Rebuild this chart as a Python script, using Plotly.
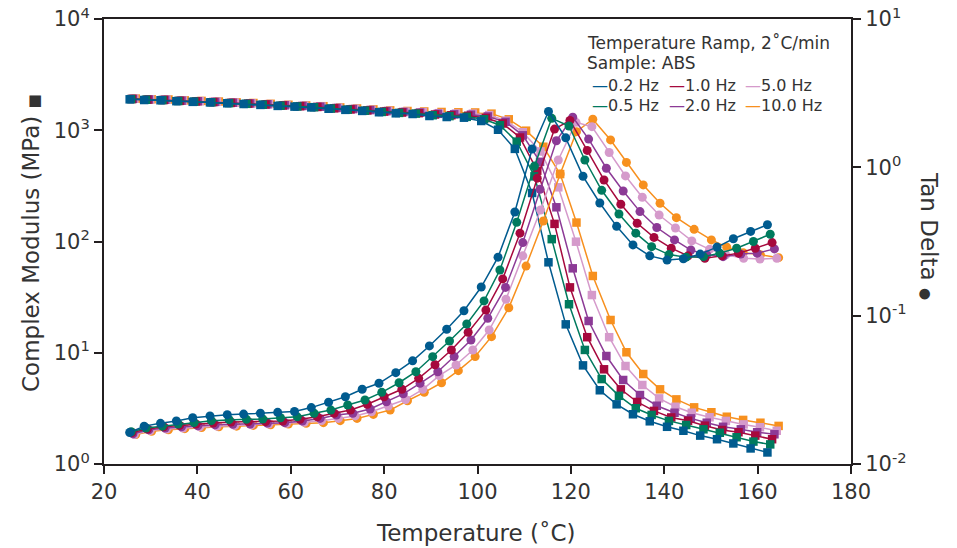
import plotly.graph_objects as go

# ---------------- data ----------------
freq_labels = ["0.2 Hz", "0.5 Hz", "1.0 Hz", "2.0 Hz", "5.0 Hz", "10.0 Hz"]
colors = ["#005B8F", "#007A5E", "#A6093D", "#8C3A96", "#D59ACB", "#F7901E"]

temp_02 = [25.5, 28.6, 32.1, 35.5, 39.0, 42.7, 46.4, 49.9, 53.5, 57.2, 60.8, 64.4, 68.1, 71.7, 75.3, 78.9, 82.5, 86.1, 89.7, 93.4,
           97.1, 100.8, 104.4, 108.0, 111.7, 115.2, 118.9, 122.6, 126.2, 129.8, 133.3, 136.9, 140.6, 144.1, 147.7, 151.3, 154.8, 158.5, 162.1]
temp_05 = [25.8, 29.0, 32.5, 35.9, 39.3, 43.0, 46.8, 50.5, 54.0, 57.8, 61.4, 65.0, 68.6, 72.2, 75.9, 79.5, 83.2, 86.8, 90.4, 94.0,
           97.7, 101.4, 104.8, 108.4, 112.2, 115.9, 119.6, 123.0, 126.6, 130.3, 133.9, 137.3, 141.0, 144.7, 148.4, 151.9, 155.5, 159.1, 162.7]
temp_10 = [26.0, 29.3, 32.8, 36.2, 39.7, 43.4, 47.2, 50.9, 54.6, 58.3, 62.0, 65.7, 69.3, 72.8, 76.4, 80.0, 83.8, 87.4, 90.9, 94.4,
           98.0, 101.8, 105.4, 109.1, 112.8, 116.5, 119.8, 123.5, 127.1, 130.7, 134.2, 137.8, 141.5, 145.1, 148.7, 152.4, 155.9, 159.5, 163.1]
temp_20 = [26.2, 29.6, 33.1, 36.6, 40.1, 43.8, 47.6, 51.3, 55.0, 58.7, 62.5, 66.3, 69.8, 73.3, 77.0, 80.5, 84.1, 87.7, 91.5, 95.0,
           98.6, 102.2, 106.0, 109.7, 113.4, 116.9, 120.4, 123.8, 127.6, 131.2, 134.8, 138.4, 142.2, 145.7, 149.1, 152.6, 156.4, 159.9, 163.6]
temp_50 = [26.5, 29.9, 33.4, 36.9, 40.5, 44.2, 48.0, 51.6, 55.3, 59.1, 62.9, 66.6, 70.2, 73.8, 77.3, 80.9, 84.6, 88.3, 91.8, 95.4,
           99.0, 102.5, 106.1, 109.7, 113.5, 117.3, 121.1, 124.5, 128.2, 131.7, 135.3, 138.9, 142.4, 145.9, 149.7, 153.2, 157.0, 160.5, 164.1]
temp_100 = [26.8, 30.2, 33.8, 37.3, 40.9, 44.6, 48.4, 52.0, 55.7, 59.5, 63.3, 67.0, 70.6, 74.2, 77.7, 81.3, 85.0, 88.6, 92.3, 95.9,
            99.5, 103.0, 106.7, 110.4, 114.1, 117.7, 121.2, 124.7, 128.5, 131.9, 135.5, 139.1, 142.6, 146.4, 150.1, 153.4, 156.9, 160.6, 164.5]

modulus_02 = [1897, 1870, 1860, 1825, 1800, 1780, 1748, 1722, 1690, 1655, 1630, 1605, 1560, 1525, 1492, 1452, 1420, 1400, 1343, 1315,
              1297, 1211, 1010, 680, 273, 65, 18.0, 7.7, 4.6, 3.44, 2.80, 2.42, 2.16, 1.99, 1.80, 1.67, 1.53, 1.38, 1.27]
modulus_05 = [1905, 1880, 1866, 1832, 1808, 1786, 1755, 1728, 1697, 1662, 1637, 1612, 1568, 1532, 1500, 1462, 1432, 1412, 1365, 1340,
              1320, 1255, 1110, 790, 385, 105, 27.3, 10.6, 5.8, 4.1, 3.17, 2.76, 2.44, 2.24, 2.05, 1.91, 1.74, 1.59, 1.50]
modulus_10 = [1910, 1885, 1872, 1838, 1815, 1792, 1762, 1735, 1704, 1670, 1645, 1620, 1576, 1540, 1508, 1472, 1444, 1425, 1385, 1365,
              1350, 1290, 1150, 860, 433, 144, 38.7, 13.8, 7.1, 4.69, 3.61, 3.0, 2.62, 2.45, 2.21, 2.02, 1.93, 1.80, 1.67]
modulus_20 = [1915, 1890, 1878, 1844, 1822, 1798, 1768, 1742, 1712, 1678, 1653, 1628, 1585, 1550, 1518, 1484, 1458, 1440, 1405, 1390,
              1380, 1330, 1190, 900, 520, 203, 57.4, 19.3, 9.35, 5.69, 4.17, 3.34, 2.89, 2.57, 2.35, 2.16, 2.05, 1.93, 1.85]
modulus_50 = [1920, 1895, 1884, 1850, 1828, 1805, 1775, 1750, 1720, 1686, 1661, 1636, 1594, 1560, 1528, 1496, 1472, 1455, 1425, 1415,
              1410, 1370, 1220, 960, 645, 307, 99.6, 33.0, 13.8, 7.6, 5.13, 3.89, 3.27, 2.89, 2.63, 2.44, 2.27, 2.14, 1.99]
modulus_100 = [1925, 1900, 1890, 1856, 1835, 1812, 1782, 1758, 1728, 1694, 1670, 1645, 1604, 1570, 1540, 1510, 1490, 1475, 1460, 1450,
               1445, 1410, 1254, 991, 711, 404, 148, 49, 19.7, 10.1, 6.44, 4.69, 3.81, 3.23, 2.92, 2.66, 2.49, 2.35, 2.2]

tan_02 = [0.0163, 0.0180, 0.0188, 0.0195, 0.0205, 0.0211, 0.0215, 0.0217, 0.0220, 0.0223, 0.0226, 0.0240, 0.0261, 0.0284, 0.0319,
          0.0350, 0.0413, 0.0496, 0.0625, 0.081, 0.108, 0.156, 0.248, 0.50, 1.33, 2.38, 1.58, 0.87, 0.575, 0.40,
          0.30, 0.253, 0.237, 0.242, 0.26, 0.29, 0.33, 0.37, 0.41]
tan_05 = [0.0165, 0.0175, 0.0180, 0.0186, 0.0190, 0.0196, 0.0199, 0.0200, 0.0201, 0.0205, 0.0208, 0.0220, 0.0231, 0.0250, 0.0270,
          0.0304, 0.0353, 0.0419, 0.0529, 0.0675, 0.0879, 0.1257, 0.203, 0.426, 1.02, 2.14, 1.90, 1.12, 0.70, 0.485,
          0.36, 0.292, 0.258, 0.248, 0.25, 0.264, 0.285, 0.316, 0.354]
tan_10 = [0.0163, 0.0172, 0.0178, 0.0182, 0.0186, 0.0189, 0.0192, 0.0193, 0.0193, 0.0195, 0.0200, 0.0208, 0.0220, 0.0231, 0.0253,
          0.0284, 0.0319, 0.0378, 0.0467, 0.0587, 0.0773, 0.109, 0.177, 0.36, 0.845, 1.81, 2.07, 1.30, 0.822, 0.564,
          0.42, 0.337, 0.285, 0.253, 0.244, 0.253, 0.264, 0.285, 0.311]
tan_20 = [0.0160, 0.0170, 0.0175, 0.0178, 0.0181, 0.0184, 0.0185, 0.0186, 0.0189, 0.0190, 0.0195, 0.0203, 0.0214, 0.0220, 0.0235,
          0.0263, 0.0297, 0.0350, 0.0419, 0.053, 0.0686, 0.096, 0.155, 0.311, 0.711, 1.51, 2.18, 1.55, 0.986, 0.693,
          0.503, 0.393, 0.324, 0.277, 0.257, 0.250, 0.260, 0.264, 0.282]
tan_50 = [0.0158, 0.0168, 0.0172, 0.0175, 0.0178, 0.0180, 0.0182, 0.0184, 0.0186, 0.0188, 0.0191, 0.0196, 0.0203, 0.0211, 0.0225,
          0.0246, 0.0272, 0.0319, 0.0394, 0.0465, 0.0587, 0.080, 0.129, 0.253, 0.516, 1.12, 2.01, 1.88, 1.26, 0.875,
          0.629, 0.477, 0.39, 0.319, 0.28, 0.257, 0.244, 0.241, 0.244]
tan_100 = [0.0158, 0.0166, 0.0170, 0.0173, 0.0176, 0.0178, 0.0180, 0.0182, 0.0184, 0.0186, 0.0188, 0.0190, 0.0196, 0.0203, 0.0216,
           0.0231, 0.0267, 0.0304, 0.0353, 0.0426, 0.053, 0.0722, 0.113, 0.216, 0.435, 0.903, 1.74, 2.11, 1.53, 1.08,
           0.761, 0.573, 0.458, 0.382, 0.324, 0.289, 0.266, 0.257, 0.246]

temperatures = [temp_02, temp_05, temp_10, temp_20, temp_50, temp_100]
moduli = [modulus_02, modulus_05, modulus_10, modulus_20, modulus_50, modulus_100]
tandeltas = [tan_02, tan_05, tan_10, tan_20, tan_50, tan_100]

x_ticks = [20, 40, 60, 80, 100, 120, 140, 160, 180]
left_tickvals = [1, 10, 100, 1000, 10000]
left_ticktext = ["10<sup>0</sup>", "10<sup>1</sup>", "10<sup>2</sup>", "10<sup>3</sup>", "10<sup>4</sup>"]
right_tickvals = [0.01, 0.1, 1, 10]
right_ticktext = ["10<sup>-2</sup>", "10<sup>-1</sup>", "10<sup>0</sup>", "10<sup>1</sup>"]

# ---------------- figure ----------------
FONT = "DejaVu Sans"
TXT = "#333333"
AX = "#231F20"

fig = go.Figure()
order = list(range(len(freq_labels)))[::-1]
for i in order:
    fig.add_trace(go.Scatter(
        x=temperatures[i], y=moduli[i], mode="lines+markers", name=freq_labels[i],
        line=dict(color=colors[i], width=1.5),
        marker=dict(symbol="square", size=8.5, color=colors[i]),
        showlegend=False, yaxis="y"))
for i in order:
    fig.add_trace(go.Scatter(
        x=temperatures[i], y=tandeltas[i], mode="lines+markers", name=freq_labels[i],
        line=dict(color=colors[i], width=1.5),
        marker=dict(symbol="circle", size=9, color=colors[i]),
        showlegend=False, yaxis="y2"))

W, H = 957, 548
L, R, T, B = 104, 106, 19, 84
pw, ph = W - L - R, H - T - B


def px(xpix):
    return (xpix - L) / pw


def py(ypix):
    return (H - B - ypix) / ph


axis_common = dict(showline=True, linecolor=AX, linewidth=2, ticks="outside", ticklen=8,
                   tickwidth=2, tickcolor=AX, showgrid=False, zeroline=False, automargin=False,
                   tickfont=dict(family=FONT, size=21, color=TXT))

fig.update_layout(
    width=W, height=H,
    margin=dict(l=L, r=R, t=T, b=B, autoexpand=False),
    paper_bgcolor="white", plot_bgcolor="white",
    font=dict(family=FONT, color=TXT),
    showlegend=False,
    xaxis=dict(range=[20, 180], tickvals=x_ticks, mirror=True, **axis_common),
    yaxis=dict(type="log", range=[0, 4], tickvals=left_tickvals, ticktext=left_ticktext, **axis_common),
    yaxis2=dict(type="log", range=[-2, 1], tickvals=right_tickvals, ticktext=right_ticktext,
                overlaying="y", side="right", **axis_common),
)

annotations = [
    dict(text="Temperature (˚C)", x=px(476), y=py(533), xref="paper", yref="paper",
         showarrow=False, font=dict(family=FONT, size=23, color=TXT), xanchor="center", yanchor="middle"),
    dict(text='Complex Modulus (MPa) <span style="font-size:15px">■</span>', x=px(31), y=py(243),
         xref="paper", yref="paper", showarrow=False, textangle=-90,
         font=dict(family=FONT, size=23, color=TXT), xanchor="center", yanchor="middle"),
    dict(text='Tan Delta <span style="font-size:14px">●</span>', x=px(929), y=py(236),
         xref="paper", yref="paper", showarrow=False, textangle=90,
         font=dict(family=FONT, size=23, color=TXT), xanchor="center", yanchor="middle"),
    dict(text="Temperature Ramp, 2˚C/min", x=px(585), y=py(43), xref="paper", yref="paper",
         showarrow=False, font=dict(family=FONT, size=17, color=TXT), xanchor="left", yanchor="middle"),
    dict(text="Sample: ABS", x=px(585), y=py(63), xref="paper", yref="paper",
         showarrow=False, font=dict(family=FONT, size=17, color=TXT), xanchor="left", yanchor="middle"),
]

legend_cols = [590, 667, 743]
legend_rows = [85, 105]
legend_slots = [(0, 0), (1, 0), (0, 1), (1, 1), (0, 2), (1, 2)]  # (row, col) per frequency
for i, lab in enumerate(freq_labels):
    r, c = legend_slots[i]
    annotations.append(dict(
        text=f'<span style="color:{colors[i]}">—</span>{lab}',
        x=px(legend_cols[c]), y=py(legend_rows[r]), xref="paper", yref="paper",
        showarrow=False, font=dict(family=FONT, size=16, color=TXT), xanchor="left", yanchor="middle"))

fig.update_layout(annotations=annotations)
fig.write_html("out.html", config={"displayModeBar": False},
               post_script="document.body.style.margin='0';document.body.style.overflow='hidden';")
